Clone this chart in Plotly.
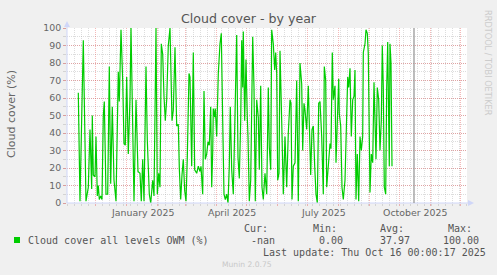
import plotly.graph_objects as go
import pandas as pd

# ---------------- data ----------------
start_date = "2024-11-14"          # first sample
days = [0.3, 2, 5.3, 8, 10.3, 12, 13.7, 14.3, 15.3, 17, 18, 19.3, 20.3, 21.3, 22.7, 24, 25.3, 26.3, 28, 29.7,
        31.3, 32.7, 34.3, 36, 38, 40.3, 41.3, 43, 44.7, 46, 47.3, 48.7, 50.3, 52, 53, 54.7, 56, 58, 60, 62,
        63.3, 64.7, 66, 68, 69.3, 71.3, 72.7, 74.7, 76, 78, 79.3, 80.7, 82, 83.3, 84.7, 86, 87.3, 88.7, 90.3, 92,
        94, 95.3, 97, 98.7, 100.3, 101.3, 102.7, 104, 105.3, 106.7, 108, 109.3, 111,
        112, 113.7, 115.3, 116.7, 118.7, 120.3, 122, 123, 124.7, 126, 127.3, 128.7, 130, 131.3, 132.7, 133.7,
        134.7, 135.3, 136.7, 137.3, 138.7, 140.3, 142, 143.3, 144.7, 146, 147.3, 148.7, 150, 151.3, 152.3, 153.7,
        155.3, 157, 158.7, 160, 161.3, 162.7, 163.7, 164.7, 165.3, 166.7, 168, 169.3, 170, 171.3, 172.7, 174.7,
        176, 177.3, 178.7, 180.3, 181.3, 182.7, 184, 185.3, 187, 188.7, 190.3, 191.3, 192.7, 193.7, 195.3, 196.7,
        197.7, 198.7, 199.7, 201, 202, 203.7, 205.3, 207, 208.7, 210.3, 212, 213, 214, 215.3, 217, 218.7, 220.3,
        222, 223.7, 224.7, 226, 227, 228.7, 230.3, 231.3, 232.7, 234, 235.3, 236.7, 238, 239.3, 240.7, 242,
        243.7, 245.3, 246.3, 247.7, 248.7, 250.3, 252, 253, 254.3, 255.3, 257, 258, 259.3, 260.7, 261.3, 262.7,
        264, 265.3, 267, 268.7, 269.7, 270.7, 272, 273.3, 274.7, 276, 277, 278, 279.3, 280.7, 282, 283.3,
        284.7, 285.3, 287, 288, 289.3, 290.3, 292, 293.3, 294.7, 296, 297, 298, 299.3, 300.7, 302, 303.3,
        304.3, 305.3, 306.3, 307.7, 308.7, 309.7, 310.7, 311.3, 312, 313, 314]
cloud_cover = [63, 1, 93, 1, 9, 42, 8, 50, 16, 15, 38, 4, 10, 2, 4, 2, 50, 58, 5, 5,
               78, 11, 55, 13, 1, 75, 58, 99, 70, 34, 33, 72, 28, 60, 100, 47, 1, 59, 18, 17,
               1, 25, 1, 78, 36, 5, 0, 13, 4, 100, 5, 17, 9, 91, 85, 61, 47, 59, 90, 100,
               47, 53, 89, 44, 45, 20, 2, 16, 25, 7, 1, 26, 74,
               72, 21, 86, 19, 17, 21, 18, 21, 5, 64, 25, 28, 35, 33, 55, 9,
               29, 54, 49, 54, 38, 74, 91, 97, 47, 5, 2, 5, 0, 21, 55, 19,
               5, 55, 96, 26, 14, 47, 93, 66, 98, 47, 82, 49, 38, 1, 13, 95,
               66, 1, 59, 49, 19, 67, 9, 2, 17, 5, 66, 32, 19, 99, 91, 76,
               86, 74, 13, 17, 87, 47, 5, 38, 9, 40, 59, 57, 2, 21, 23, 70, 1,
               80, 68, 30, 57, 53, 42, 67, 49, 16, 42, 44, 21, 5, 0, 57, 58,
               38, 5, 78, 70, 9, 21, 34, 31, 86, 59, 67, 23, 47, 71, 51, 44,
               9, 2, 13, 47, 72, 66, 77, 38, 59, 61, 76, 2, 28, 1, 38, 30,
               38, 86, 91, 99, 97, 85, 6, 28, 23, 69, 44, 25, 66, 59, 30, 47,
               90, 66, 9, 5, 66, 92, 47, 21, 91, 80, 21]

x_start, x_end = "2024-11-03", "2025-12-08"
last_update = "2025-10-16 00:00:17"
month_label_text = ["January 2025", "April 2025", "July 2025", "October 2025"]
month_label_dates = ["2025-01-17", "2025-04-17", "2025-07-17", "2025-10-17"]
chart_title = "Cloud cover - by year"
y_title = "Cloud cover (%)"
series_name = "Cloud cover all levels OWM (%)"
stat_headers = ["Cur:", "Min:", "Avg:", "Max:"]
stat_values = ["-nan", "0.00", "37.97", "100.00"]
update_text = "Last update: Thu Oct 16 00:00:17 2025"
footer_text = "Munin 2.0.75"
side_text = "RRDTOOL / TOBI OETIKER"

# ---------------- layout helpers ----------------
W, H = 497, 275
L, R, T, B = 67, 30, 28, 72
PW, PH = W - L - R, H - T - B


def px(xp):
    return (xp - L) / PW


def py(yp):
    return (H - B - yp) / PH


FONT = "DejaVu Sans"
MONO = "DejaVu Sans Mono"
FCOL = "#666666"
AXC = "#CFD6F8"
GRID = "rgba(150,150,150,0.32)"
MGRID = "rgba(225,70,70,0.38)"
SERIES_COLOR = "#00CC00"

xs = pd.to_datetime(start_date) + pd.to_timedelta(days, unit="D")

fig = go.Figure()
fig.add_trace(go.Scatter(x=xs, y=cloud_cover, mode="lines",
                         line=dict(color=SERIES_COLOR, width=1.2),
                         hoverinfo="skip", showlegend=False))

fig.update_xaxes(range=[x_start, x_end], type="date",
                 dtick="M1", tick0="2024-12-01", showticklabels=False,
                 showgrid=True, gridcolor=MGRID, griddash="1px,1px", gridwidth=1,
                 ticks="outside", ticklen=2, tickcolor=MGRID,
                 minor=dict(dtick=7 * 86400000, tick0="2024-12-01", showgrid=True,
                            gridcolor=GRID, griddash="1px,1px", ticks="outside",
                            ticklen=2, tickcolor=GRID),
                 showline=False, zeroline=False, fixedrange=True)
fig.update_yaxes(range=[0, 100], tickvals=list(range(0, 101, 10)),
                 showgrid=True, gridcolor=MGRID, griddash="1px,1px", gridwidth=1,
                 ticks="outside", ticklen=3, tickcolor=MGRID,
                 minor=dict(dtick=5, showgrid=True, gridcolor=GRID, griddash="1px,1px",
                            ticks="outside", ticklen=3, tickcolor=GRID),
                 tickfont=dict(family=FONT, size=9.4, color=FCOL),
                 showline=False, zeroline=False, fixedrange=True)

shapes = []
# axis lines + arrows
shapes.append(dict(type="line", xref="paper", yref="paper", x0=0, x1=0, y0=0, y1=py(25),
                   line=dict(color=AXC, width=1)))
shapes.append(dict(type="line", xref="paper", yref="paper", x0=0, x1=px(470), y0=0, y1=0,
                   line=dict(color=AXC, width=1)))
shapes.append(dict(type="path", xref="paper", yref="paper",
                   path=f"M {px(64)},{py(27)} L {px(70)},{py(27)} L {px(67)},{py(21)} Z",
                   fillcolor=AXC, line=dict(width=0)))
shapes.append(dict(type="path", xref="paper", yref="paper",
                   path=f"M {px(468)},{py(200)} L {px(468)},{py(206)} L {px(474)},{py(203)} Z",
                   fillcolor=AXC, line=dict(width=0)))
# last-update rule
shapes.append(dict(type="line", xref="x", yref="paper", x0=last_update, x1=last_update,
                   y0=0, y1=1, line=dict(color="#999999", width=1.3)))
# legend colour box
shapes.append(dict(type="rect", xref="paper", yref="paper",
                   x0=px(14), x1=px(20), y0=py(243), y1=py(237),
                   fillcolor=SERIES_COLOR, line=dict(width=0)))

ann = []
for t, d in zip(month_label_text, month_label_dates):
    ann.append(dict(x=d, xref="x", y=py(212), yref="paper", text=t, showarrow=False,
                    xanchor="center", yanchor="middle",
                    font=dict(family=FONT, size=9.4, color=FCOL)))
ann.append(dict(x=px(11), y=py(114), xref="paper", yref="paper", text=y_title,
                textangle=-90, showarrow=False, xanchor="center", yanchor="middle",
                font=dict(family=FONT, size=11, color=FCOL)))
ann.append(dict(x=px(488), y=py(8), xref="paper", yref="paper", text=side_text,
                textangle=90, showarrow=False, xanchor="center", yanchor="top",
                font=dict(family=FONT, size=8.2, color="#cccccc")))

mono = dict(family=MONO, size=10, color="#555555")
ann.append(dict(x=px(26.5), y=py(240), xref="paper", yref="paper", text=series_name,
                showarrow=False, xanchor="left", yanchor="middle", font=mono, borderpad=0))
for t, xl in zip(stat_headers, [243, 312, 379, 447]):
    ann.append(dict(x=px(xl), y=py(228), xref="paper", yref="paper", text=t,
                    showarrow=False, xanchor="left", yanchor="middle", font=mono, borderpad=0))
for t, xl in zip(stat_values, [250, 318, 379, 442]):
    ann.append(dict(x=px(xl), y=py(240), xref="paper", yref="paper", text=t,
                    showarrow=False, xanchor="left", yanchor="middle", font=mono, borderpad=0))
ann.append(dict(x=px(262), y=py(252), xref="paper", yref="paper", text=update_text,
                showarrow=False, xanchor="left", yanchor="middle", font=mono, borderpad=0))
ann.append(dict(x=px(247), y=py(264), xref="paper", yref="paper", text=footer_text,
                showarrow=False, xanchor="center", yanchor="middle",
                font=dict(family=FONT, size=7.6, color="#c8c8c8")))

fig.update_layout(
    width=W, height=H,
    margin=dict(l=L, r=R, t=T, b=B, pad=0),
    paper_bgcolor="#F0F0F0", plot_bgcolor="#FFFFFF",
    title=dict(text=chart_title, x=0.5, xref="container", xanchor="center",
               y=1 - 18.5 / H, yanchor="middle",
               font=dict(family=FONT, size=12.6, color="#555555")),
    shapes=shapes, annotations=ann, showlegend=False,
)

fig.write_html("out.html", config={"displayModeBar": False})
